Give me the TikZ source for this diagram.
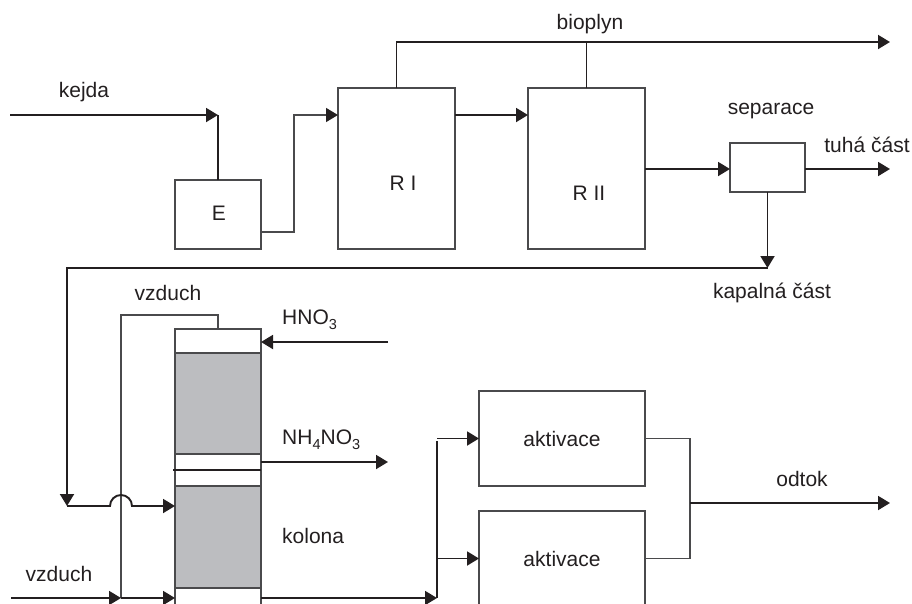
\documentclass[tikz,border=0pt]{standalone}
\usepackage{fontspec}
\setmainfont{Liberation Sans}
\usepackage{tikz}
\usetikzlibrary{positioning,arrows.meta}
\definecolor{inkblack}{HTML}{231F20}
\definecolor{boxgray}{HTML}{4A4A4C}
\definecolor{packfill}{HTML}{BCBDC0}
\newcommand{\subidx}[1]{\raisebox{-5.5pt}{\fontsize{14.5}{16}\selectfont #1}}
\tikzset{
  box/.style={draw=boxgray,line width=1.3pt,inner sep=0pt,outer sep=0pt,text=inkblack},
  colpart/.style={box,minimum width=86pt},
  flow/.style={draw=inkblack,line width=1.9pt},
  flowarrow/.style={flow,-{Triangle[length=12pt,width=14pt]}},
  pipe/.style={draw=boxgray,line width=1.3pt},
  pipearrow/.style={pipe,-{Triangle[length=12pt,width=14pt,color=inkblack]}},
  lbl/.style={anchor=base,inner sep=0pt,text=inkblack},
  lblleft/.style={anchor=base west,inner sep=0pt,text=inkblack}
}
\begin{document}
\begin{tikzpicture}[x=1pt,y=-1pt,font=\fontsize{21}{25}\selectfont]
\path[clip,use as bounding box] (0,0) rectangle (912,603);

% Upper row of boxes
\node[box,minimum width=86pt,minimum height=69pt] (E) at (218,214.5) {};
\node[box,minimum width=117pt,minimum height=161pt] (RI) at (396.5,168.5) {};
\node[box,minimum width=117pt,minimum height=161pt] (RII) at (586.5,168.5) {};
\node[box,minimum width=75pt,minimum height=49pt] (sep) at (767.5,167.5) {};

% Column, top to bottom
\node[colpart,minimum height=24pt] (coltop) at (218,341) {};
\node[colpart,minimum height=101pt,fill=packfill,below=0pt of coltop] (colupper) {};
\node[colpart,minimum height=32pt,below=0pt of colupper] (colmid) {};
\node[colpart,minimum height=102pt,fill=packfill,below=0pt of colmid] (collower) {};
\node[colpart,minimum height=40pt,below=0pt of collower] (colbot) {};

% Activation tanks
\node[box,minimum width=166pt,minimum height=95pt] (akt1) at (562,438.5) {aktivace};
\node[box,minimum width=166pt,minimum height=95pt] (akt2) at (562,558.5) {aktivace};

% Free ends and bends
\coordinate (kejdain) at (10,115);
\coordinate (eout) at (294,232);
\coordinate (rin) at (294,115);
\coordinate (bioend) at (890,42);
\coordinate (solidend) at (890,169);
\coordinate (back) at (67,268);
\coordinate (backin) at (67,506);
\coordinate (bumpa) at (110,506);
\coordinate (airtop) at (121,315);
\coordinate (airin) at (11,598);
\coordinate (hnoin) at (388,342);
\coordinate (saltout) at (388,462);
\coordinate (split) at (437,441);
\coordinate (merge) at (690,503);
\coordinate (outend) at (890,503);

% Labels
\node[lbl] (lkejda) at (84,97) {kejda};
\node[lbl] (lbio) at (590,29) {bioplyn};
\node[lbl] (lE) at (219,220) {E};
\node[lbl] (lRI) at (403,190) {R I};
\node[lbl] (lRII) at (589,200) {R II};
\node[lbl] (lsep) at (771,114) {separace};
\node[lbl] (lsolid) at (867,152) {tuhá část};
\node[lbl] (lliquid) at (772,298) {kapalná část};
\node[lbl] (lair) at (168,300) {vzduch};
\node[lblleft] (lhno) at (282,324) {HNO\subidx{3}};
\node[lblleft] (lsalt) at (282,444) {NH\subidx{4}NO\subidx{3}};
\node[lblleft] (lcol) at (282,543) {kolona};
\node[lbl] (lairin) at (59,581) {vzduch};
\node[lbl] (lout) at (802,486) {odtok};

% Feed to digesters
\draw[flowarrow] (kejdain) -- (kejdain -| E.north);
\draw[flow] (E.north) -- (E.north |- kejdain);
\draw[pipearrow] (eout -| E.east) -- (eout) -- (rin) -- (rin -| RI.west);
\draw[flowarrow] (rin -| RI.east) -- (rin -| RII.west);

% Biogas
\draw[flowarrow] (RI.north) |- (bioend);
\draw[flow] (RII.north) -- (RII.north |- bioend);

% Separation
\draw[flowarrow] (solidend -| RII.east) -- (solidend -| sep.west);
\draw[flowarrow] (solidend -| sep.east) -- (solidend);
\draw[flowarrow] (sep.south) -- (sep.south |- back);
\draw[flowarrow] (sep.south |- back) -- (back) -- (backin);

% Return into the column, over the air line
\draw[pipe] (coltop.north) |- (airtop) -- (airtop |- airin);
\draw[flowarrow] (backin) -- (bumpa) arc[start angle=180,end angle=0,radius=11pt] -- (backin -| collower.west);

% Column streams
\draw[flowarrow] (hnoin) -- (hnoin -| coltop.east);
\draw[flowarrow] (saltout -| colmid.east) -- (saltout);
\draw[flow] ([xshift=-2pt]colmid.west) -- (colmid.east);
\draw[flowarrow] (airin) -- (airin -| airtop);
\draw[flowarrow] (airin -| airtop) -- (airin -| colbot.west);

% To the activation tanks
\draw[flowarrow] (airin -| colbot.east) -- (airin -| split);
\draw[flow] (airin -| split) -- (split);
\draw[flowarrow] (akt1.west -| split) -- (akt1.west);
\draw[flowarrow] (akt2.west -| split) -- (akt2.west);

% Outflow
\draw[pipe] (akt1.east) -| (merge) |- (akt2.east);
\draw[flowarrow] (merge) -- (outend);
\end{tikzpicture}
\end{document}
